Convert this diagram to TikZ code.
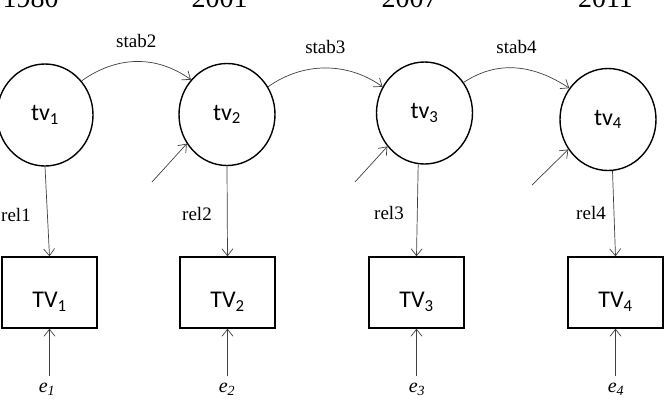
\documentclass[tikz,border=0pt]{standalone}
\usepackage{fontspec}
\setmainfont{Liberation Serif}
\newfontfamily\calfont{Carlito}
\usetikzlibrary{shapes.geometric,arrows.meta}
\begin{document}
\begin{tikzpicture}[x=1pt,y=-1pt,
  latent/.style={ellipse,draw,line width=1.4pt,inner sep=0pt,minimum width=96pt,minimum height=102pt,font=\calfont\fontsize{24}{26}\selectfont},
  obs/.style={rectangle,draw,line width=1.4pt,minimum width=95pt,minimum height=71pt,inner sep=0pt},
  obstext/.style={font=\calfont\fontsize{24}{26}\selectfont,inner sep=0pt},
  arr/.style={draw=black!75,line width=0.7pt,-{Straight Barb[length=7pt,width=11pt]}},
  lab/.style={font=\fontsize{19}{21}\selectfont,inner sep=0pt},
  year/.style={font=\fontsize{28}{30}\selectfont,anchor=base,inner sep=0pt},
  err/.style={font=\fontsize{20}{22}\selectfont,anchor=base,inner ysep=6pt,inner xsep=0pt}]
\useasboundingbox[fill=white] (0,0) rectangle (664,400);

% years
\node[year] (y1) at (30.5,7) {1980};
\node[year] (y2) at (219.5,7) {2001};
\node[year] (y3) at (409.5,7) {2007};
\node[year] (y4) at (605.5,7) {2011};

% latent
\node[latent] (tv1) at (45,115) {tv\textsubscript{1}};
\node[latent] (tv2) at (227,114.5) {tv\textsubscript{2}};
\node[latent] (tv3) at (424.5,113) {tv\textsubscript{3}};
\node[latent] (tv4) at (608,119.5) {tv\textsubscript{4}};

% observed
\node[obs] (TV1) at (49.5,292.5) {};
\node[obs] (TV2) at (227.5,292.5) {};
\node[obs] (TV3) at (416.5,292.5) {};
\node[obs] (TV4) at (615.5,292.5) {};
\node[obstext] (t1) at ([yshift=-9pt]TV1.center) {TV\textsubscript{1}};
\node[obstext] (t2) at ([yshift=-9pt]TV2.center) {TV\textsubscript{2}};
\node[obstext] (t3) at ([yshift=-9pt]TV3.center) {TV\textsubscript{3}};
\node[obstext] (t4) at ([yshift=-9pt]TV4.center) {TV\textsubscript{4}};

% errors
\node[err] (e1) at (47,392) {\textit{e}\textsubscript{\textit{1}}};
\node[err] (e2) at (227,392) {\textit{e}\textsubscript{\textit{2}}};
\node[err] (e3) at (417,392) {\textit{e}\textsubscript{\textit{3}}};
\node[err] (e4) at (616,392) {\textit{e}\textsubscript{\textit{4}}};

\coordinate (c2) at (152,182);
\coordinate (c3) at (355,182);
\coordinate (c4) at (532,185);

% stability paths
\draw[arr] (tv1.43) .. controls +(35,-25) and +(-35,-25) .. (tv2.136) node[lab,pos=0.5,above=14pt] (s2) {stab2};
\draw[arr] (tv2.34) .. controls +(35,-25) and +(-35,-25) .. (tv3.148) node[lab,pos=0.5,above=14pt] (s3) {stab3};
\draw[arr] (tv3.38) .. controls +(35,-23) and +(-35,-23) .. (tv4.141) node[lab,pos=0.5,above=14pt] (s4) {stab4};

% loadings
\draw[arr] (tv1.south) -- (TV1.north);
\draw[arr] (tv2.south) -- (TV2.north);
\draw[arr] (tv3.263) -- (TV3.north);
\draw[arr] (tv4.275) -- (TV4.north);
\node[lab] (r1) at (16,215) {rel1};
\node[lab] (r2) at (197,214) {rel2};
\node[lab] (r3) at (389,213) {rel3};
\node[lab] (r4) at (591,213) {rel4};

% disturbances
\draw[arr] (c2) -- (tv2.216);
\draw[arr] (c3) -- (tv3.222);
\draw[arr] (c4) -- (tv4.217);

% measurement errors
\draw[arr] (e1.north -| TV1.south) -- (TV1.south);
\draw[arr] (e2.north -| TV2.south) -- (TV2.south);
\draw[arr] (e3.north -| TV3.south) -- (TV3.south);
\draw[arr] (e4.north -| TV4.south) -- (TV4.south);
\end{tikzpicture}
\end{document}
